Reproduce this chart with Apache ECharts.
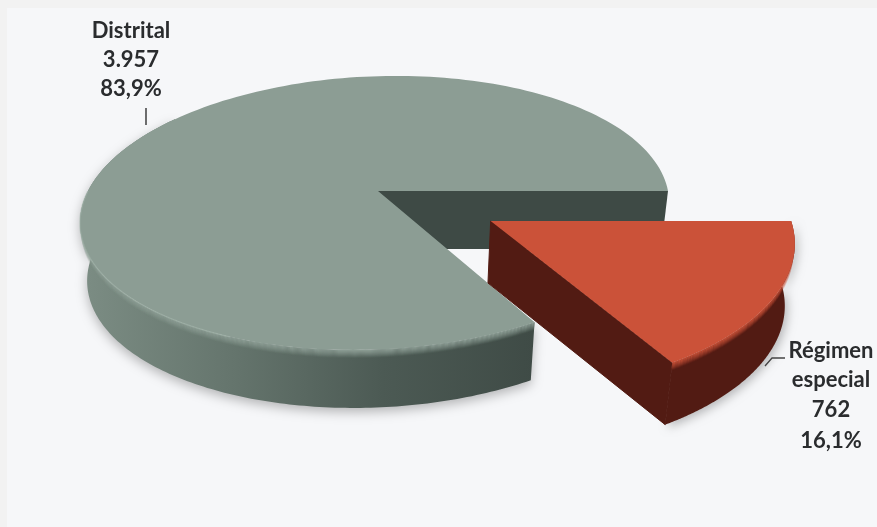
<!DOCTYPE html>
<html><head><meta charset="utf-8">
<style>html,body{margin:0;padding:0;background:#f2f2f2}#c{width:877px;height:527px}</style>
<script src="https://cdn.jsdelivr.net/npm/echarts@6/dist/echarts.min.js"></script>
</head><body><div id="c"></div>
<script>
var categories = ['Distrital', 'Régimen especial'];
var values = [3957, 762];
var valueLabels = ['3.957', '762'];
var percentLabels = ['83,9%', '16,1%'];

var total = values[0] + values[1];
var sweep = 2 * Math.PI * values[1] / total;
var EXPLODE = 0.447, EXPLODE_ANGLE = sweep / 2;
var CX = 378, CY = 191, RX = 290, RY = 133.5, P = 0.16, SHEAR = -21, SHRINK = 0.976;

function project(a, r, ox, oy) {
  var u = ox + r * Math.cos(a), v = oy + r * Math.sin(a), w = 1 - P * v;
  return [CX + (RX * u + SHEAR * v) / w, CY + RY * v / w];
}
function lower(p, t, depth) {
  return [CX + (p[0] - CX) * (1 - (1 - SHRINK) * t / depth), p[1] + t];
}
function arc(a0, a1, r, ox, oy) {
  var out = [], n = 180;
  for (var i = 0; i <= n; i++) out.push(project(a0 + (a1 - a0) * i / n, r, ox, oy));
  return out;
}
function band(pts, d0, d1, depth) {
  var top = pts.map(function (p) { return lower(p, d0, depth); });
  var bot = pts.map(function (p) { return lower(p, d1, depth); }).reverse();
  return top.concat(bot);
}
function poly(points, style) {
  return { type: 'polygon', shape: { points: points }, style: style, silent: true };
}
function hGrad(x0, x1, stops) {
  return { type: 'linear', x: x0, y: 0, x2: x1, y2: 0, global: true,
    colorStops: stops.map(function (c, i) { return { offset: i / (stops.length - 1), color: c }; }) };
}
function text(str, x, y) {
  return { type: 'text', silent: true, style: { text: str, x: x, y: y, align: 'center', verticalAlign: 'middle',
    font: 'bold 22px Lato', fill: '#2a2c2e', shadowBlur: 1, shadowColor: 'rgba(40,40,40,0.45)' } };
}
function line(pts, color) {
  return { type: 'polyline', silent: true, shape: { points: pts }, style: { stroke: color, lineWidth: 1.3, fill: null } };
}

function renderItem(params, api) {
  var i = params.dataIndex, kids = [];
  var isGray = i === 0;
  var depth = isGray ? 58 : 62;
  var a0 = isGray ? sweep : 0, a1 = isGray ? 2 * Math.PI : sweep;
  var ox = isGray ? 0 : EXPLODE * Math.cos(EXPLODE_ANGLE);
  var oy = isGray ? 0 : EXPLODE * Math.sin(EXPLODE_ANGLE);
  var apex = project(0, 0, ox, oy);
  var rim = arc(a0, a1, 1, ox, oy);
  var frontRim = isGray ? arc(sweep, Math.PI * 1.2, 1, 0, 0) : rim;
  var topPts = [apex].concat(rim);
  var topColor = isGray ? '#8c9d94' : '#cb5239';
  if (isGray) {
    kids.push(poly(band([apex, rim[rim.length - 1]], 0, depth, depth), { fill: '#3e4a45' }));
    kids.push(poly(band(frontRim, 0, depth, depth), {
      fill: hGrad(80, 534, ['#7c8d84', '#65756d', '#4c5a54', '#3f4b46']),
      shadowBlur: 12, shadowColor: 'rgba(0,0,0,0.28)', shadowOffsetY: 4 }));
  } else {
    kids.push(poly(band(rim, 0, depth, depth), { fill: '#521b13',
      shadowBlur: 10, shadowColor: 'rgba(0,0,0,0.25)', shadowOffsetX: 3, shadowOffsetY: 3 }));
    kids.push(poly(band([apex, rim[rim.length - 1]], 0, depth, depth), { fill: '#521b13', stroke: '#521b13', lineWidth: 1 }));
  }
  var steps = 8;
  for (var k = 0; k < steps; k++) {
    kids.push(poly(band(frontRim, k, k + 1.2, depth), { fill: topColor, opacity: 1 - (k + 0.5) / steps }));
  }
  kids.push(poly(topPts, { fill: topColor }));
  if (isGray) {
    var leftRim = arc(Math.PI * 0.62, Math.PI * 1.0, 1, 0, 0);
    kids.push({ type: 'polyline', silent: true, shape: { points: leftRim },
      style: { stroke: '#a3b5ab', lineWidth: 1.5, fill: null, opacity: 0.5 } });
    kids.push(line([[146, 108], [146, 125]], '#222'));
    kids.push(text(categories[i], 131, 31));
    kids.push(text(valueLabels[i], 131, 60));
    kids.push(text(percentLabels[i], 131, 89));
  } else {
    var words = categories[i].split(' ');
    kids.push(line([[785, 358], [772, 358], [765, 366]], '#444'));
    kids.push(text(words[0], 831, 351));
    kids.push(text(words[1], 831, 380));
    kids.push(text(valueLabels[i], 831, 410));
    kids.push(text(percentLabels[i], 831, 441));
  }
  return { type: 'group', children: kids };
}

var chart = echarts.init(document.getElementById('c'), null, { renderer: 'canvas' });
chart.setOption({
  animation: false,
  backgroundColor: '#f2f2f2',
  graphic: [{ type: 'rect', z: -10, silent: true, shape: { x: 7, y: 8, width: 870, height: 519 }, style: { fill: '#f6f7f9' } }],
  series: [{
    type: 'custom',
    coordinateSystem: 'none',
    renderItem: renderItem,
    data: values.map(function (v, i) { return { name: categories[i], value: [v] }; })
  }]
});
</script></body></html>
